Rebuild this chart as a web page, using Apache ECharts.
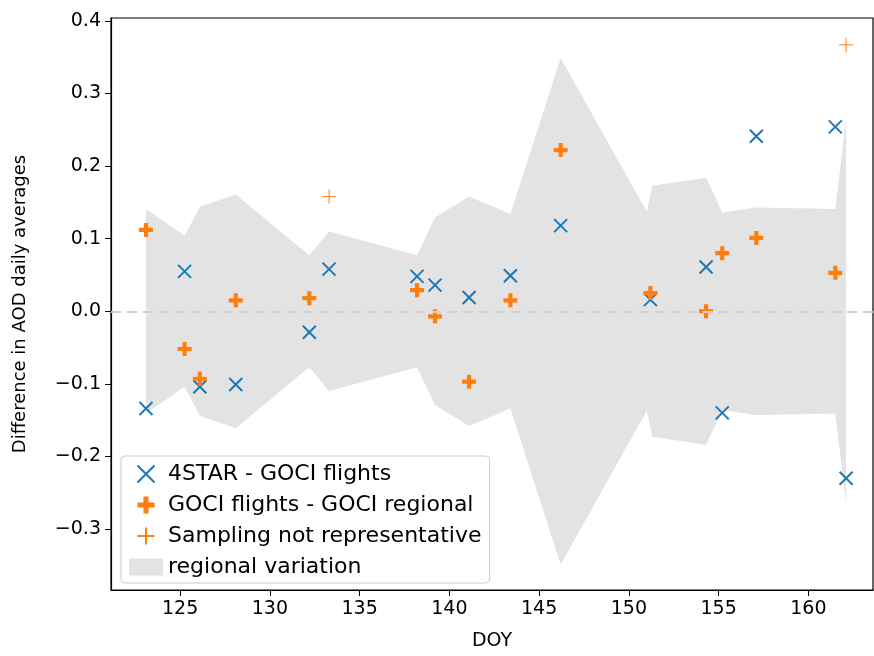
<!DOCTYPE html>
<html>
<head>
<meta charset="utf-8">
<script src="https://cdn.jsdelivr.net/npm/echarts@6/dist/echarts.min.js"></script>
<style>html,body{margin:0;padding:0;background:#fff}#c{width:874px;height:656px}</style>
</head>
<body>
<div id="c"></div>
<script>
// 4STAR - GOCI flights
var starDoy = [123.1, 125.25, 126.1, 128.1, 132.2, 133.3, 138.2, 139.2, 141.1, 143.4, 146.2, 151.2, 154.3, 155.2, 157.1, 161.5, 162.1];
var starVal = [-0.134, 0.055, -0.104, -0.101, -0.029, 0.058, 0.048, 0.036, 0.019, 0.049, 0.118, 0.016, 0.061, -0.140, 0.241, 0.254, -0.230];
// GOCI flights - GOCI regional
var regDoy = [123.1, 125.25, 126.1, 128.1, 132.2, 138.2, 139.2, 141.1, 143.4, 146.2, 151.2, 154.3, 155.2, 157.1, 161.5];
var regVal = [0.112, -0.052, -0.093, 0.015, 0.018, 0.029, -0.007, -0.097, 0.015, 0.222, 0.025, 0.0, 0.080, 0.101, 0.053];
// Sampling not representative
var badDoy = [133.3, 162.1];
var badVal = [0.158, 0.367];
// regional variation (symmetric band)
var bandDoy = [123.1, 125.25, 126.1, 128.1, 132.2, 133.3, 138.2, 139.2, 141.1, 143.4, 146.2, 151.0, 151.3, 154.3, 155.2, 157.1, 161.5, 162.1];
var bandHalf = [0.141, 0.104, 0.144, 0.161, 0.077, 0.110, 0.077, 0.129, 0.158, 0.134, 0.349, 0.137, 0.173, 0.184, 0.136, 0.143, 0.141, 0.265];
var xTicks = [125, 130, 135, 140, 145, 150, 155, 160];
var yTicks = [-0.3, -0.2, -0.1, 0.0, 0.1, 0.2, 0.3, 0.4];

var pairs = function (xs, ys) { return xs.map(function (x, i) { return [x, ys[i]]; }); };
var bandData = bandDoy.map(function (x, i) { return [x, bandHalf[i], -bandHalf[i]]; });

var crossPath = 'path://M0,0L10,10M10,0L0,10';
var boldPlus = 'path://M3.5,0H6.5V3.5H10V6.5H6.5V10H3.5V6.5H0V3.5H3.5Z';
var thinPlus = 'path://M5,0V10M0,5H10';
var font = 'DejaVu Sans';

var chart = echarts.init(document.getElementById('c'));
chart.setOption({
    animation: false,
    textStyle: { fontFamily: font },
    grid: { left: 111, right: 1, top: 18, bottom: 63, show: true, borderColor: '#000', borderWidth: 1.2, backgroundColor: 'transparent' },
    xAxis: {
        type: 'value', min: 121.15, max: 163.6,
        name: 'DOY', nameLocation: 'middle', nameGap: 42,
        nameTextStyle: { fontSize: 19, color: '#000' },
        splitLine: { show: false },
        axisLine: { onZero: false, lineStyle: { color: '#000', width: 1.2 } },
        axisTick: { show: true, length: 6, customValues: xTicks, lineStyle: { color: '#000' } },
        axisLabel: { customValues: xTicks, fontSize: 19, color: '#000', margin: 10 }
    },
    yAxis: {
        type: 'value', min: -0.384, max: 0.404,
        name: 'Difference in AOD daily averages', nameLocation: 'middle', nameGap: 82,
        nameTextStyle: { fontSize: 18, color: '#000' },
        splitLine: { show: false },
        axisLine: { show: true, onZero: false, lineStyle: { color: '#000', width: 1.2 } },
        axisTick: { show: true, length: 6, customValues: yTicks, lineStyle: { color: '#000' } },
        axisLabel: { customValues: yTicks, fontSize: 19, color: '#000', margin: 10,
            formatter: function (v) { return (v < 0 ? '\u2212' : '') + Math.abs(v).toFixed(1); } }
    },
    legend: {
        orient: 'vertical', left: 121, bottom: 73,
        backgroundColor: '#fff', borderColor: '#ccc', borderWidth: 1, borderRadius: 4,
        padding: [7, 8, 5, 8], itemGap: 9, itemWidth: 34, itemHeight: 17,
        textStyle: { fontSize: 22, color: '#000' },
        data: [
            { name: '4STAR - GOCI flights' },
            { name: 'GOCI flights - GOCI regional' },
            { name: 'Sampling not representative' },
            { name: 'regional variation', icon: 'rect' }
        ]
    },
    series: [
        {
            name: 'regional variation', type: 'custom', z: 1,
            itemStyle: { color: '#e3e3e3' },
            data: bandData,
            encode: { x: 0, y: [1, 2] },
            renderItem: function (params, api) {
                if (params.dataIndex !== 0) return null;
                var top = [], bot = [];
                for (var i = 0; i < bandData.length; i++) {
                    top.push(api.coord([bandData[i][0], bandData[i][1]]));
                    bot.unshift(api.coord([bandData[i][0], bandData[i][2]]));
                }
                return { type: 'polygon', shape: { points: top.concat(bot) }, style: { fill: '#e3e3e3' } };
            }
        },
        {
            name: 'zero', type: 'line', data: [], z: 2,
            markLine: { silent: true, symbol: 'none', label: { show: false },
                lineStyle: { color: '#d0d0d0', type: [10, 6], width: 2 }, data: [{ yAxis: 0 }] }
        },
        {
            name: '4STAR - GOCI flights', type: 'scatter', z: 3,
            symbol: crossPath, symbolSize: 13,
            itemStyle: { color: 'rgba(0,0,0,0)', borderColor: '#1f77b4', borderWidth: 2, opacity: 1 },
            data: pairs(starDoy, starVal)
        },
        {
            name: 'GOCI flights - GOCI regional', type: 'scatter', z: 4,
            symbol: boldPlus, symbolSize: 14,
            itemStyle: { color: '#ff7f0e', opacity: 1 },
            data: pairs(regDoy, regVal)
        },
        {
            name: 'Sampling not representative', type: 'scatter', z: 4,
            symbol: thinPlus, symbolSize: 14,
            itemStyle: { color: 'rgba(0,0,0,0)', borderColor: '#ff7f0e', borderWidth: 1, opacity: 1 },
            data: pairs(badDoy, badVal)
        }
    ]
});
</script>
</body>
</html>
